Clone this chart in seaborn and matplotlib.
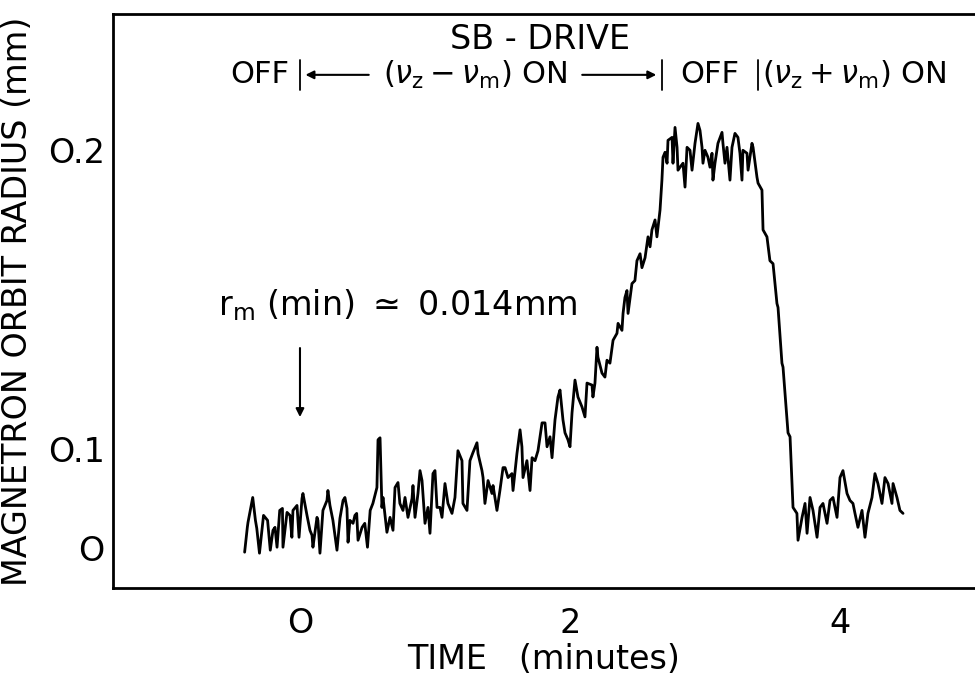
import matplotlib
matplotlib.use("Agg")
import matplotlib.pyplot as plt
import matplotlib.transforms as mtransforms
import seaborn as sns
import pandas as pd

# ---- data ----
# time in minutes
time_min = [
    -0.41, -0.39, -0.385, -0.35, -0.33, -0.32, -0.30, -0.27, -0.24, -0.22,
    -0.20, -0.185, -0.17, -0.15, -0.13, -0.126, -0.096, -0.074, -0.06, -0.052,
    -0.022, -0.007, 0.015, 0.022, 0.052, 0.074, 0.089, 0.096, 0.126, 0.133,
    0.148, 0.17, 0.20, 0.207, 0.222, 0.244, 0.274, 0.296, 0.319, 0.333,
    0.348, 0.356, 0.37, 0.393, 0.407, 0.42, 0.43, 0.46, 0.48, 0.50,
    0.52, 0.54, 0.57, 0.578, 0.593, 0.607, 0.615, 0.644, 0.667, 0.689,
    0.704, 0.726, 0.74, 0.763, 0.778, 0.80, 0.83, 0.837, 0.852, 0.874,
    0.889, 0.904, 0.926, 0.948, 0.963, 0.985, 1.00, 1.015, 1.037, 1.052,
    1.074, 1.096, 1.126, 1.148, 1.17, 1.20, 1.207, 1.237, 1.259, 1.281,
    1.311, 1.319, 1.348, 1.356, 1.37, 1.393, 1.422, 1.43, 1.459, 1.481,
    1.504, 1.519, 1.541, 1.57, 1.578, 1.607, 1.63, 1.644, 1.652, 1.681,
    1.704, 1.719, 1.741, 1.763, 1.793, 1.815, 1.83, 1.852, 1.867, 1.889,
    1.911, 1.926, 1.948, 1.963, 1.985, 2.00, 2.015, 2.037, 2.059, 2.089,
    2.111, 2.126, 2.163, 2.17, 2.185, 2.20, 2.207, 2.237, 2.259, 2.274,
    2.296, 2.319, 2.348, 2.356, 2.385, 2.393, 2.407, 2.422, 2.43, 2.459,
    2.481, 2.496, 2.519, 2.533, 2.556, 2.578, 2.593, 2.607, 2.63, 2.644,
    2.667, 2.681, 2.689, 2.704, 2.719, 2.726, 2.756, 2.763, 2.778, 2.793,
    2.80, 2.815, 2.837, 2.852, 2.867, 2.889, 2.904, 2.926, 2.948, 2.963,
    2.978, 2.985, 3.00, 3.022, 3.037, 3.052, 3.059, 3.074, 3.096, 3.126,
    3.133, 3.148, 3.163, 3.185, 3.20, 3.222, 3.244, 3.259, 3.274, 3.281,
    3.311, 3.319, 3.348, 3.356, 3.385, 3.393, 3.422, 3.43, 3.459, 3.481,
    3.504, 3.533, 3.541, 3.57, 3.578, 3.615, 3.63, 3.652, 3.681, 3.689,
    3.719, 3.741, 3.756, 3.778, 3.80, 3.83, 3.852, 3.874, 3.904, 3.926,
    3.948, 3.978, 4.00, 4.022, 4.052, 4.074, 4.096, 4.111, 4.133, 4.163,
    4.185, 4.207, 4.237, 4.259, 4.281, 4.311, 4.333, 4.356, 4.385, 4.393,
    4.422, 4.444, 4.467,
]
# detector deflection, proportional to r^2, in units of (0.1 mm)^2
signal = [
    -0.04, 0.21, 0.26, 0.51, 0.28, 0.20, -0.05, 0.33, 0.28, -0.02,
    0.18, 0.21, 0.01, 0.38, 0.40, 0.01, 0.36, 0.33, 0.11, 0.38,
    0.43, 0.11, 0.50, 0.55, 0.33, 0.18, 0.13, 0.01, 0.31, 0.28,
    -0.05, 0.38, 0.48, 0.58, 0.43, 0.28, -0.02, 0.30, 0.48, 0.51,
    0.40, 0.06, 0.28, 0.25, 0.33, 0.35, 0.08, 0.21, 0.25, 0.01,
    0.38, 0.45, 0.61, 1.09, 1.11, 0.41, 0.51, 0.16, 0.31, 0.18,
    0.61, 0.66, 0.45, 0.38, 0.51, 0.31, 0.50, 0.63, 0.31, 0.55,
    0.78, 0.68, 0.25, 0.41, 0.15, 0.75, 0.78, 0.41, 0.41, 0.31,
    0.65, 0.45, 0.35, 0.51, 0.98, 0.88, 0.45, 0.38, 0.88, 0.96,
    1.06, 0.95, 0.78, 0.71, 0.45, 0.68, 0.55, 0.63, 0.38, 0.58,
    0.81, 0.81, 0.71, 0.75, 0.58, 0.95, 1.19, 1.02, 0.71, 0.88,
    0.58, 0.91, 0.88, 0.98, 1.26, 1.26, 1.02, 1.12, 0.91, 1.29,
    1.52, 1.59, 1.29, 1.16, 1.09, 1.02, 1.36, 1.69, 1.52, 1.42,
    1.32, 1.66, 1.64, 1.52, 1.66, 2.02, 1.92, 1.76, 1.72, 1.89,
    1.86, 2.09, 2.16, 2.26, 2.19, 2.36, 2.52, 2.59, 2.36, 2.66,
    2.69, 2.89, 2.96, 2.82, 2.92, 3.13, 3.03, 3.20, 3.30, 3.13,
    3.40, 3.70, 3.93, 3.98, 3.87, 4.10, 4.13, 3.87, 4.23, 4.03,
    3.80, 3.83, 3.87, 3.63, 4.03, 4.00, 3.80, 4.07, 4.27, 4.20,
    4.03, 3.87, 4.00, 3.93, 3.83, 3.97, 3.70, 3.87, 4.07, 4.18,
    4.07, 3.87, 4.03, 3.70, 4.03, 4.17, 4.13, 3.97, 3.70, 4.00,
    3.97, 3.80, 4.07, 4.03, 3.73, 3.67, 3.60, 3.20, 3.13, 2.89,
    2.86, 2.46, 2.42, 1.86, 1.82, 1.16, 1.12, 0.41, 0.35, 0.08,
    0.31, 0.45, 0.15, 0.51, 0.38, 0.11, 0.41, 0.45, 0.25, 0.48,
    0.51, 0.31, 0.71, 0.78, 0.55, 0.48, 0.45, 0.35, 0.21, 0.38,
    0.11, 0.35, 0.51, 0.75, 0.65, 0.45, 0.71, 0.65, 0.45, 0.65,
    0.51, 0.38, 0.35,
]
ytick_radius = [0, 0.1, 0.2]          # mm
ytick_labels = ["O", "O.1", "O.2"]
xtick_values = [0, 2, 4]
xtick_labels = ["O", "2", "4"]
drive_switch_times = [0.0, 2.68, 3.39]   # minutes

df = pd.DataFrame({"time": time_min, "signal": signal})

sns.set_theme(style="white")
plt.rcParams["font.family"] = ["DejaVu Sans"]
plt.rcParams["mathtext.fontset"] = "dejavusans"

FS = 24
FS2 = 22
W, H = 975, 677
fig = plt.figure(figsize=(W / 100, H / 100), dpi=100)
ax = fig.add_axes([113 / W, 1 - 588 / H, 1 - 113 / W, (588 - 14) / H])

sns.lineplot(data=df, x="time", y="signal", ax=ax, color="black",
             linewidth=2.0, estimator=None, sort=False)

ax.set_xlim(-1.385, 5.0)
ax.set_ylim(-0.40, 5.37)

ax.set_yticks([(r / 0.1) ** 2 for r in ytick_radius])
ax.set_yticklabels(ytick_labels)
ax.set_xticks(xtick_values)
ax.set_xticklabels(xtick_labels)
ax.tick_params(axis="both", direction="in", length=14, width=1.6,
               labelsize=FS, colors="black")
ax.tick_params(axis="y", pad=6)
ax.tick_params(axis="x", pad=14)

for side in ["left", "top", "bottom"]:
    ax.spines[side].set_visible(True)
    ax.spines[side].set_color("black")
    ax.spines[side].set_linewidth(2.0)
ax.spines["right"].set_visible(False)

ax.set_xlabel("TIME   (minutes)", fontsize=FS, color="black", labelpad=2)
ax.set_ylabel("MAGNETRON ORBIT RADIUS (mm)", fontsize=FS, color="black",
              labelpad=10)

trans = mtransforms.blended_transform_factory(ax.transData, ax.transAxes)
y_line2 = 0.894
y_top = 0.955

ax.text(1.78, y_top, "SB - DRIVE", transform=trans, ha="center",
        va="center", fontsize=FS, color="black")

ax.text(-0.08, y_line2, "OFF", transform=trans, ha="right", va="center",
        fontsize=FS2, color="black")
for t in drive_switch_times:
    ax.plot([t, t], [y_line2 - 0.026, y_line2 + 0.026], transform=trans,
            color="black", lw=1.3, clip_on=False)
ax.annotate("", xy=(drive_switch_times[0] + 0.02, y_line2),
            xytext=(0.53, y_line2), xycoords=trans, textcoords=trans,
            arrowprops=dict(arrowstyle="-|>", color="black", lw=1.5,
                            mutation_scale=12))
ax.text(1.30, y_line2, r"$(\nu_{\rm z} - \nu_{\rm m})$ ON", transform=trans,
        ha="center", va="center", fontsize=FS2, color="black")
ax.annotate("", xy=(drive_switch_times[1] - 0.02, y_line2),
            xytext=(2.07, y_line2), xycoords=trans, textcoords=trans,
            arrowprops=dict(arrowstyle="-|>", color="black", lw=1.5,
                            mutation_scale=12))
ax.text((drive_switch_times[1] + drive_switch_times[2]) / 2, y_line2, "OFF",
        transform=trans, ha="center", va="center", fontsize=FS2,
        color="black")
ax.text(drive_switch_times[2] + 0.03, y_line2,
        r"$(\nu_{\rm z} + \nu_{\rm m})$ ON",
        transform=trans, ha="left", va="center", fontsize=FS2,
        color="black")

ax.text(-0.61, 2.44, r"r$_{\rm m}$ (min) $\simeq$ 0.014mm", ha="left",
        va="center", fontsize=FS, color="black")
ax.annotate("", xy=(0.0, 1.29), xytext=(0.0, 2.04),
            arrowprops=dict(arrowstyle="-|>", color="black", lw=1.5,
                            mutation_scale=12))

fig.savefig("out.png", dpi=100)
